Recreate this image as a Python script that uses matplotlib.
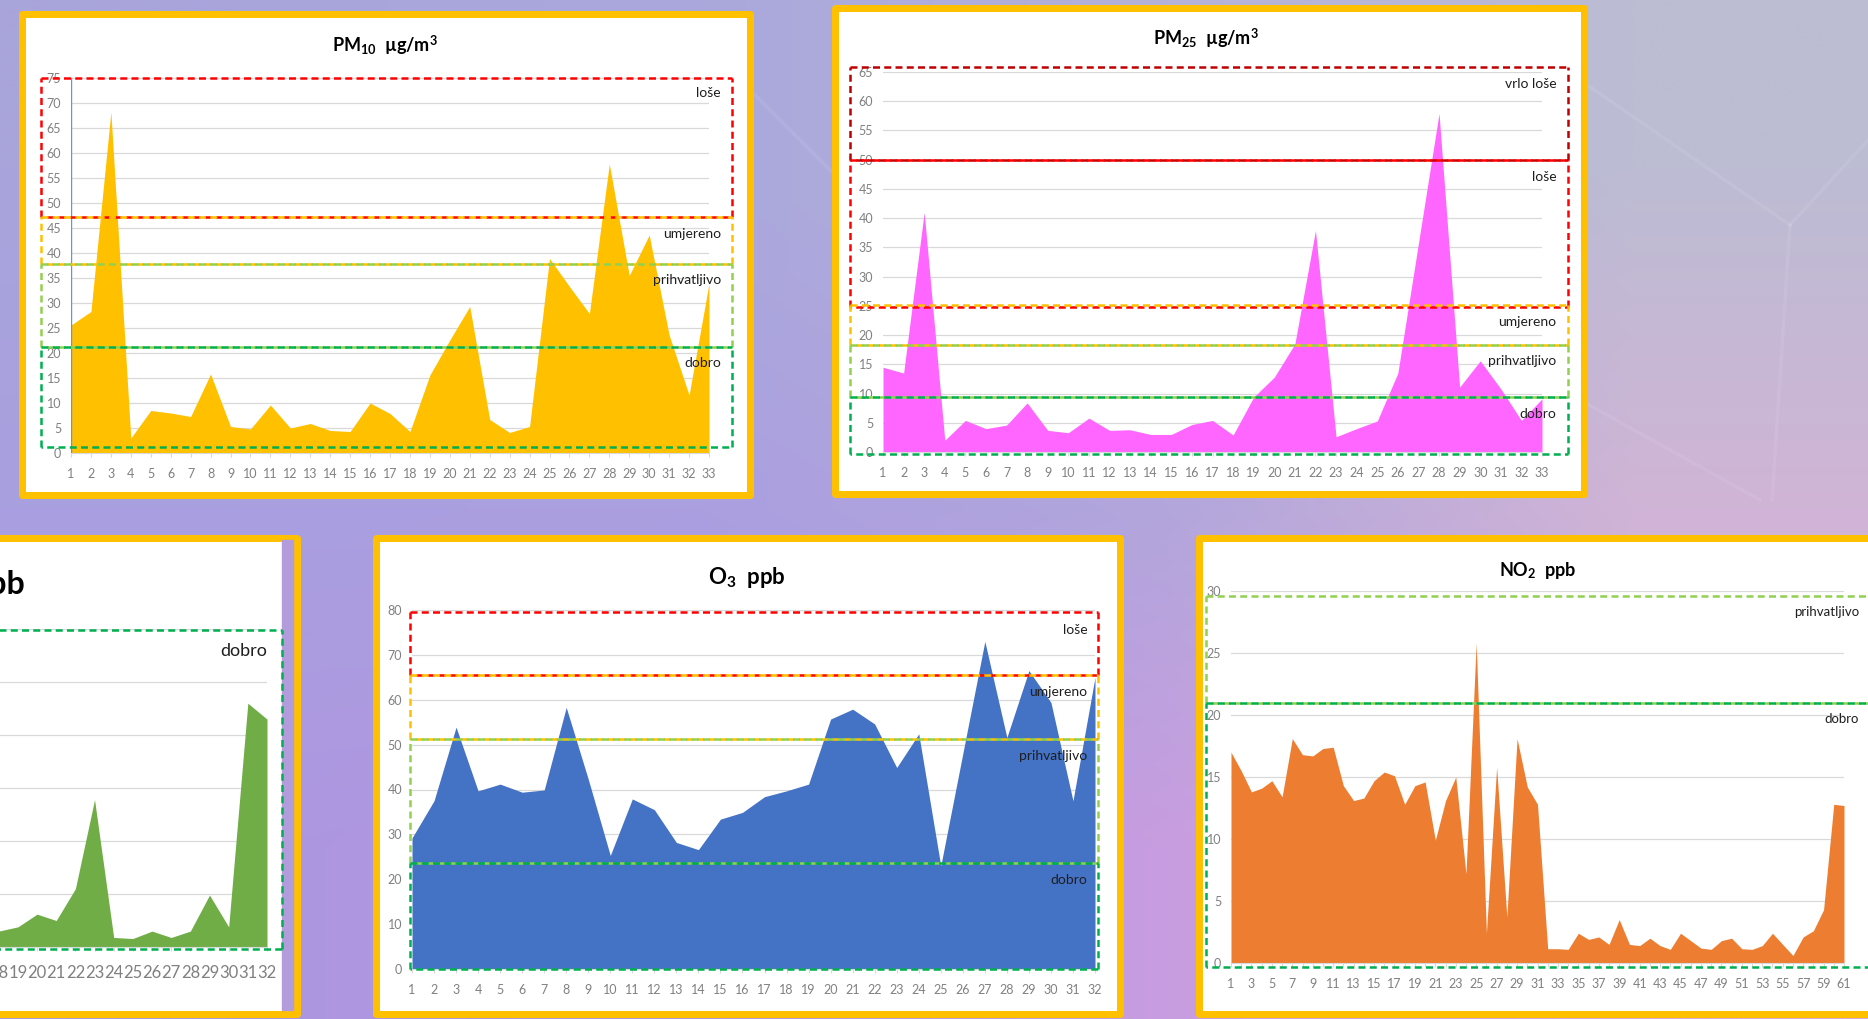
import numpy as np
import matplotlib.pyplot as plt
from matplotlib.patches import Rectangle
from matplotlib.colors import to_rgb

# ---- data ----
pm10_days = list(range(1, 34))
pm10 = [25.6, 28.3, 68.2, 3.0, 8.5, 8.0, 7.3, 15.8, 5.3, 4.8, 9.6, 5.0, 5.9, 4.5,
        4.3, 10.0, 7.9, 4.3, 15.6, 22.6, 29.3, 6.7, 4.1, 5.3, 38.9, 33.3, 27.9,
        57.8, 35.5, 43.6, 23.6, 11.6, 33.9]

pm25_days = list(range(1, 34))
pm25 = [14.5, 13.5, 41.0, 2.0, 5.4, 4.0, 4.6, 8.4, 3.7, 3.3, 5.8, 3.7, 3.8, 3.0,
        3.0, 4.7, 5.4, 2.9, 9.4, 12.8, 18.5, 37.9, 2.6, 4.0, 5.3, 13.5, 35.7,
        57.9, 11.1, 15.6, 10.8, 5.4, 9.1]

o3_days = list(range(1, 33))
o3 = [29.2, 37.5, 53.9, 39.7, 41.2, 39.4, 39.9, 58.3, 42.3, 25.3, 37.9, 35.5,
      28.2, 26.6, 33.4, 34.9, 38.4, 39.7, 41.2, 55.7, 57.9, 54.6, 44.9, 52.4,
      23.0, 48.0, 73.0, 51.6, 66.5, 59.4, 37.5, 65.0]

no2_days = list(range(1, 62))
no2 = [17.0, 15.5, 13.8, 14.1, 14.7, 13.4, 18.1, 16.8, 16.7, 17.3, 17.4, 14.3,
       13.1, 13.3, 14.7, 15.4, 15.1, 12.8, 14.3, 14.6, 9.9, 13.1, 15.0, 7.2,
       25.8, 2.4, 15.8, 3.7, 18.1, 14.2, 12.8, 1.15, 1.15, 1.1, 2.4, 1.9, 2.1,
       1.5, 3.5, 1.5, 1.4, 2.0, 1.4, 1.1, 2.4, 1.8, 1.2, 1.1, 1.8, 2.0, 1.15,
       1.1, 1.4, 2.4, 1.5, 0.6, 2.1, 2.6, 4.3, 12.8, 12.7]

# left chart is cut off by the picture edge, only days 17-32 are visible
so2_days = list(range(17, 33))
so2 = [1.3, 1.5, 1.9, 3.1, 2.5, 5.5, 13.9, 0.9, 0.8, 1.5, 0.9, 1.5, 4.9, 1.9,
       23.0, 21.5]

# quality bands: (label, low, high, colour)
pm10_bands = [("loše", 47.2, 75.1, "#ff0000"), ("umjereno", 37.8, 47.2, "#ffc000"),
              ("prihvatljivo", 21.2, 37.8, "#92d050"), ("dobro", 1.2, 21.2, "#00b050")]
pm25_bands = [("vrlo loše", 50.0, 65.9, "#c00000"), ("loše", 24.8, 50.0, "#ff0000"),
              ("umjereno", 18.3, 25.2, "#ffc000"), ("prihvatljivo", 9.4, 18.3, "#92d050"),
              ("dobro", -0.4, 9.4, "#00b050")]
o3_bands = [("loše", 65.5, 79.5, "#ff0000"), ("umjereno", 51.2, 65.5, "#ffc000"),
            ("prihvatljivo", 23.6, 51.2, "#92d050"), ("dobro", 0.0, 23.6, "#00b050")]
no2_bands = [("prihvatljivo", 21.0, 29.6, "#92d050"), ("dobro", -0.3, 21.0, "#00b050")]
so2_bands = [("dobro", -0.2, 29.95, "#00b050")]

W, H, DPI = 1868, 1019, 100
GRID = "#d9d9d9"
TICK = "#808080"
TXT = "#1e1e1e"

plt.rcParams['font.family'] = ['Lato', 'DejaVu Sans']
plt.rcParams['mathtext.fontset'] = 'custom'
plt.rcParams['mathtext.rm'] = 'Lato'
plt.rcParams['mathtext.bf'] = 'Lato:bold'
plt.rcParams['mathtext.it'] = 'Lato:italic'

fig = plt.figure(figsize=(W / DPI, H / DPI), dpi=DPI)

# background in pixel coordinates
bg = fig.add_axes([0, 0, 1, 1])
bg.set_xlim(0, W)
bg.set_ylim(H, 0)
bg.axis('off')
grad = np.array([[to_rgb(c) for c in row] for row in [
    ['#a8a5db', '#aaa8dc', '#b4b2d8', '#bcbcd3'],
    ['#a99fdf', '#ab9fe0', '#b2a6dc', '#d0b4d6'],
    ['#ad97e0', '#b295e2', '#c89de0', '#d6a9d8']]])
bg.imshow(grad, extent=[0, W, H, 0], interpolation='bilinear', aspect='auto', zorder=0)
for xs, ys in [([745, 835], [85, 175]), ([1580, 1790], [80, 225]),
               ([1790, 1868], [225, 140]), ([1790, 1772], [225, 500]),
               ([1580, 1760], [400, 500])]:
    bg.plot(xs, ys, color='white', alpha=0.08, lw=2.5, zorder=0.5)


def frame(x0, y0, x1, y1):
    lw = 7
    bg.add_patch(Rectangle((x0 + lw / 2, y0 + lw / 2), x1 - x0 - lw, y1 - y0 - lw,
                           facecolor='white', edgecolor='#ffc000',
                           lw=lw * 72 / DPI, joinstyle='round', zorder=1))


frame(18, 10, 753, 498)      # PM10
frame(831, 4, 1587, 497)     # PM2.5
frame(-30, 534, 300, 1017)   # cut-off left chart
bg.add_patch(Rectangle((282, 540), 11, 470, color='#b39cdc', zorder=1.5))
frame(372, 534, 1123, 1017)  # O3
frame(1195, 534, 1920, 1017) # NO2


def chart(pl, pr, pt, pb, xlim, ylim, ystep, days, vals, color, tsize=9,
          xlabels=None, xpad=8):
    ax = fig.add_axes([pl / W, 1 - pb / H, (pr - pl) / W, (pb - pt) / H])
    ax.patch.set_alpha(0)
    ax.set_xlim(*xlim)
    ax.set_ylim(*ylim)
    ax.fill_between(days, vals, 0, color=color, lw=0, zorder=1)
    ax.set_yticks(np.arange(ylim[0], ylim[1] + 0.01, ystep))
    ticks = list(range(int(xlim[0]), int(xlim[1]) + 1))
    ax.set_xticks(ticks)
    if xlabels is not None:
        ax.set_xticklabels([xlabels(t) for t in ticks])
    ax.yaxis.grid(True, color=GRID, lw=0.9)
    ax.set_axisbelow(True)
    for s in ['left', 'top', 'right']:
        ax.spines[s].set_visible(False)
    ax.spines['bottom'].set_color(GRID)
    ax.tick_params(axis='y', length=0, pad=7, labelsize=tsize, labelcolor=TICK)
    ax.tick_params(axis='x', length=2.9, width=0.8, color=GRID, pad=xpad,
                   labelsize=tsize, labelcolor=TICK)
    return ax


def bands(ax, x0, x1, spec, lab_x, lab_ys, size=10):
    pat = (2.8, 1.7)
    for i, (name, lo, hi, col) in enumerate(spec):
        kw = dict(color=col, lw=1.8, clip_on=False, zorder=3)
        ax.plot([x0, x1], [hi, hi], ls=(0, pat), **kw)
        ax.plot([x0, x1], [lo, lo], ls=(2.2, pat), **kw)
        ax.plot([x0, x0], [lo, hi], ls=(0, pat), **kw)
        ax.plot([x1, x1], [lo, hi], ls=(0, pat), **kw)
        ax.text(lab_x, lab_ys[i], name, ha='right', va='center', fontsize=size,
                color=TXT, zorder=4, clip_on=False)


# PM10
ax = chart(71, 709, 78, 453, (1, 33), (0, 75), 5, pm10_days, pm10, '#ffc000')
ax.plot([1, 1], [0, 75], color='#5b9bd5', lw=1, zorder=2)
bands(ax, -0.5, 34.15, pm10_bands, 33.6, [72, 43.8, 34.6, 18])
bg.text(385, 52, r"PM$_{\mathbf{10}}$  µg/m$^{\mathbf{3}}$", ha='center',
        va='baseline', fontsize=13, fontweight='bold', color='black', zorder=5)

# PM2.5
ax = chart(883, 1542, 72, 452, (1, 33), (0, 65), 5, pm25_days, pm25, '#ff66ff')
bands(ax, -0.6, 34.25, pm25_bands, 33.7, [63, 47, 22.3, 15.6, 6.5])
bg.text(1206, 45, r"PM$_{\mathbf{25}}$  µg/m$^{\mathbf{3}}$", ha='center',
        va='baseline', fontsize=13, fontweight='bold', color='black', zorder=5)

# cut-off left chart: only the labels that reach into the picture
ax = chart(-327, 267, 629, 947, (1, 32), (0, 30), 5, so2_days, so2, '#70ad47',
           tsize=12, xpad=10, xlabels=lambda t: str(t) if t >= 18 else '')
ax.tick_params(axis='y', labelleft=False)
bands(ax, -1, 32.78, so2_bands, 32, [27.9], size=13)
bg.text(25, 594, "ppb", ha='right', va='baseline',
        fontsize=23, fontweight='bold', color='black', zorder=5)

# O3
ax = chart(412, 1095, 610, 969, (1, 32), (0, 80), 10, o3_days, o3, '#4472c4')
bands(ax, 0.91, 32.14, o3_bands, 31.65, [75.5, 61.7, 47.4, 19.8])
bg.text(747, 584, r"O$_{\mathbf{3}}$  ppb", ha='center', va='baseline',
        fontsize=16, fontweight='bold', color='black', zorder=5)

# NO2
ax = chart(1231, 1844, 591, 963, (1, 61), (0, 30), 5, no2_days, no2, '#ed7d31',
           xlabels=lambda t: str(t) if t % 2 else '')
bands(ax, -1.45, 70, no2_bands, 62.45, [28.3, 19.7], size=9.5)
bg.text(1538, 576, r"NO$_{\mathbf{2}}$  ppb", ha='center', va='baseline',
        fontsize=13, fontweight='bold', color='black', zorder=5)

fig.savefig('out.png', dpi=DPI)
